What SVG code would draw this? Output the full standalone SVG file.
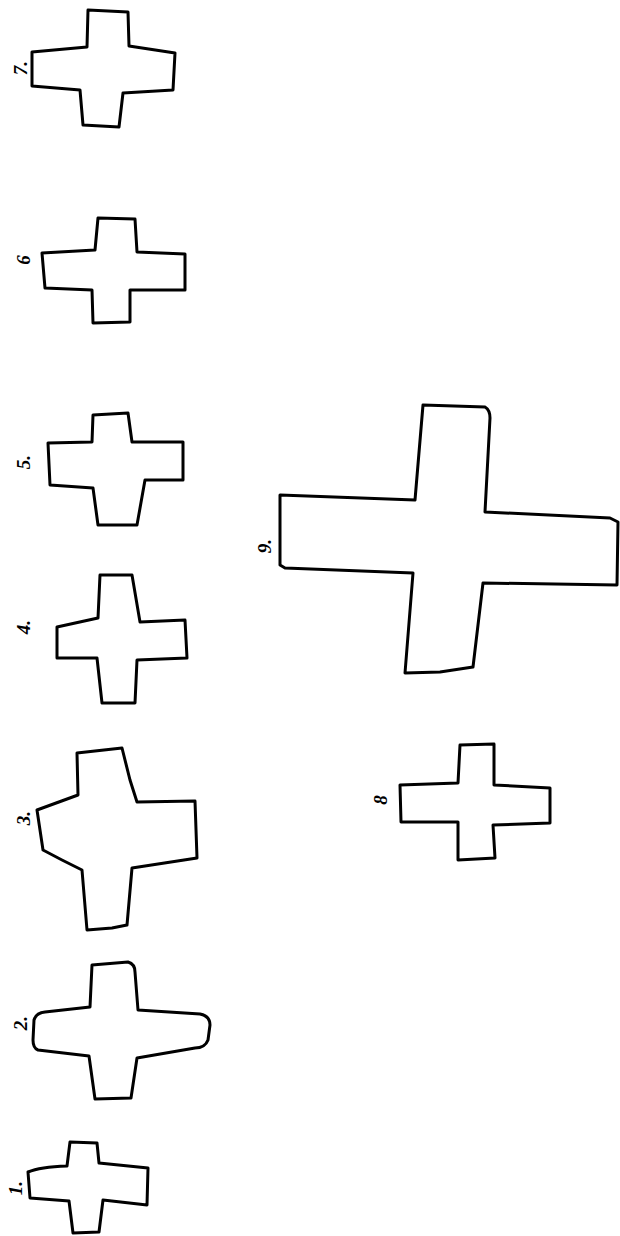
<svg xmlns="http://www.w3.org/2000/svg" width="620" height="1236" viewBox="0 0 620 1236">
<style>
.c{fill:#fff;stroke:#000;stroke-width:3;stroke-linejoin:round;stroke-linecap:round}
.l{font-family:"Liberation Serif",serif;font-style:italic;font-weight:bold;font-size:19px;fill:#000;text-anchor:middle}
</style>
<rect width="620" height="1236" fill="#fff"/>
<g id="cross7">
<path class="c" d="M88,10 L128,12 L129,46 L175,53 L173,90 L123,93 L119,127 L83,125 L80,90 L32,86 L32,52 L87,47 Z"/>
<text class="l" transform="translate(20,68) rotate(-90)" dy="0.35em">7.</text>
</g>
<g id="cross6">
<path class="c" d="M98,218 L135,219 L137,252 L185,254 L185,290 L130,290 L130,322 L93,323 L92,290 L45,288 L42,253 L95,250 Z"/>
<text class="l" transform="translate(23,260) rotate(-90)" dy="0.35em">6</text>
</g>
<g id="cross5">
<path class="c" d="M93,415 L128,413 L132,442 L183,442 L183,480 L145,480 L137,525 L98,525 L93,488 L50,485 L48,443 L92,442 Z"/>
<text class="l" transform="translate(23,462) rotate(-90)" dy="0.35em">5.</text>
</g>
<g id="cross4">
<path class="c" d="M100,575 L132,575 L140,622 L185,620 L187,658 L137,660 L135,703 L102,703 L97,658 L57,658 L57,627 L98,618 Z"/>
<text class="l" transform="translate(23,627) rotate(-90)" dy="0.35em">4.</text>
</g>
<g id="cross3">
<path class="c" d="M77,753 L122,748 L130,780 L137,802 L195,801 L197,858 L132,868 L127,925 L112,928 L87,930 L82,870 L62,860 L43,850 L37,810 L78,795 Z"/>
<text class="l" transform="translate(23,818) rotate(-90)" dy="0.35em">3.</text>
</g>
<g id="cross2">
<path class="c" d="M92,965 L128,962 Q135,964 135,972 L138,1010 L200,1014 Q210,1016 210,1025 L208,1040 Q205,1048 195,1048 L137,1058 L131,1098 L95,1099 L89,1056 L38,1050 Q33,1048 33,1040 L34,1020 Q36,1013 45,1012 L90,1007 Z"/>
<text class="l" transform="translate(20,1023) rotate(-90)" dy="0.35em">2.</text>
</g>
<g id="cross1">
<path class="c" d="M70,1142 L97,1143 L99,1163 L148,1168 L147,1205 L103,1200 L99,1232 L73,1233 L69,1201 L30,1198 L28,1172 Q40,1167 67,1166 Z"/>
<text class="l" transform="translate(15,1188) rotate(-90)" dy="0.35em">1.</text>
</g>
<g id="cross9">
<path class="c" d="M423,405 L485,407 Q490,410 490,418 L485,512 L610,518 L618,522 L617,585 L483,583 L473,667 L440,672 L405,673 L413,573 L285,568 L280,565 L280,495 L415,500 Z"/>
<text class="l" transform="translate(264,546) rotate(-90)" dy="0.35em">9.</text>
</g>
<g id="cross8">
<path class="c" d="M460,745 L494,744 L494,785 L550,788 L550,823 L493,825 L495,858 L458,860 L458,822 L401,822 L400,785 L458,783 Z"/>
<text class="l" transform="translate(380,800) rotate(-90)" dy="0.35em">8</text>
</g>
</svg>
